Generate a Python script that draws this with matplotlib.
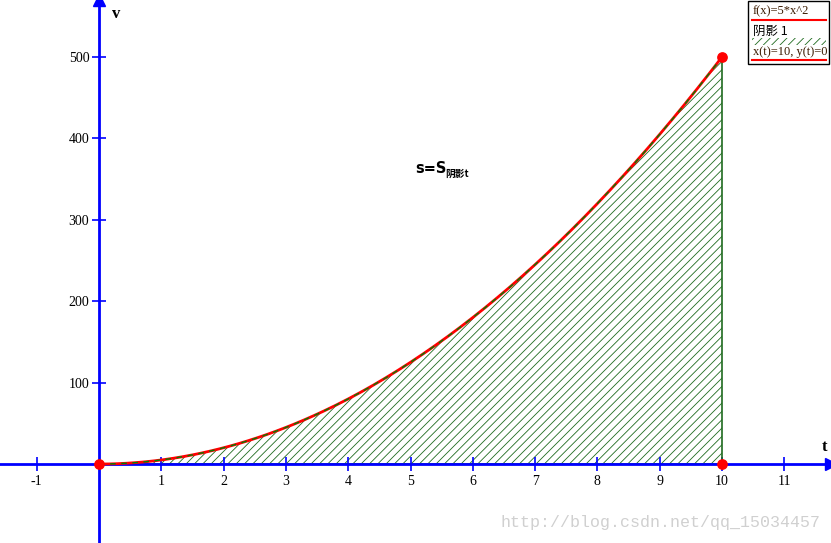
import numpy as np
import matplotlib
matplotlib.use('Agg')
import matplotlib.pyplot as plt
from matplotlib.patches import Rectangle

plt.rcParams['hatch.color'] = '#1f6b1f'
plt.rcParams['hatch.linewidth'] = 0.6

# ── Data ──────────────────────────────────────────────────────────────────────
t_curve = np.linspace(0, 10, 201)
v_curve = 5 * t_curve**2            # f(x)=5*x^2
x_ticks = [-1, 1, 2, 3, 4, 5, 6, 7, 8, 9, 10, 11]
y_ticks = [100, 200, 300, 400, 500]
pts_t = [0, 10, 10]
pts_v = [0, 0, 500]

serif = 'Liberation Serif'
blue = '#0000ff'

fig = plt.figure(figsize=(8.31, 5.43), dpi=100)
ax = fig.add_axes([0, 0, 1, 1])
ax.set_xlim(-1.59, 11.75)
ax.set_ylim(-97, 570)

# axes through origin
for side in ['top', 'right']:
    ax.spines[side].set_visible(False)
ax.spines['left'].set_position(('data', 0))
ax.spines['bottom'].set_position(('data', 0))
for side in ['left', 'bottom']:
    ax.spines[side].set_color(blue)
    ax.spines[side].set_linewidth(2)
ax.set_xticks(x_ticks)
ax.set_yticks(y_ticks)
ax.set_xticklabels([str(v) for v in x_ticks], fontfamily=serif, fontsize=10)
ax.set_yticklabels([str(v) for v in y_ticks], fontfamily=serif, fontsize=10)
ax.tick_params(axis='both', direction='inout', length=10, width=1.2, color=blue, pad=2)
ax.tick_params(axis='x', pad=3)
ax.plot(1, 0, '>', color=blue, ms=8, transform=ax.get_yaxis_transform(), clip_on=False)
ax.plot(0, 1, '^', color=blue, ms=8, transform=ax.get_xaxis_transform(), clip_on=False)
ax.text(11.6, 16, 't', fontfamily=serif, fontsize=12, fontweight='bold')
ax.text(0.2, 548, 'v', fontfamily=serif, fontsize=12, fontweight='bold')

# hatched area
ax.fill_between(t_curve, 0, v_curve, facecolor='none', hatch='////',
                edgecolor='#1f6b1f', linewidth=0)
ax.plot([10, 10], [0, 500], color='#1f6b1f', lw=1.2)
ax.plot([0, 10], [0, 0], color='#1f6b1f', lw=1.2)

# curve
ax.plot(t_curve, v_curve, color='red', lw=2, zorder=4)
ax.plot(t_curve, v_curve, color='green', lw=1, ls=(0, (4, 4)), zorder=5)

ax.scatter(pts_t, pts_v, color='red', s=45, zorder=6, clip_on=False)

ax.text(5.08, 363, 's=S', fontsize=10.5, fontweight='bold', va='center')
ax.text(5.55, 357, '阴影t', fontfamily=['Noto Sans CJK SC'], fontsize=7, fontweight='bold', va='center')

# legend box (figure pixels)
def px(x, y):
    return x / 831, 1 - y / 543
fig.patches.append(Rectangle(px(748, 64), 81 / 831, 63 / 543, transform=fig.transFigure,
                             fill=False, edgecolor='black', lw=1))
fig.text(*px(753, 11), 'f(x)=5*x^2', fontfamily=serif, fontsize=9, va='center', color='#3a1a00')
fig.add_artist(plt.Line2D([752 / 831, 826 / 831], [1 - 20 / 543] * 2, color='red', lw=1.5,
                          transform=fig.transFigure))
fig.text(*px(753, 31), '阴影 1', fontfamily=['Noto Sans CJK SC', serif], fontsize=9, va='center')
fig.patches.append(Rectangle(px(752, 45), 74 / 831, 7 / 543, transform=fig.transFigure,
                             facecolor='none', hatch='////', edgecolor='#1f6b1f', lw=0))
fig.text(*px(753, 52), 'x(t)=10, y(t)=0', fontfamily=serif, fontsize=9, va='center', color='#3a1a00')
fig.add_artist(plt.Line2D([752 / 831, 826 / 831], [1 - 60 / 543] * 2, color='red', lw=1.5,
                          transform=fig.transFigure))

# watermark
fig.text(*px(500, 522), 'http://blog.csdn.net/qq_15034457', fontfamily='Liberation Mono',
         fontsize=12, color='#d0d0d0', va='center')

fig.savefig('out.png', dpi=100)
